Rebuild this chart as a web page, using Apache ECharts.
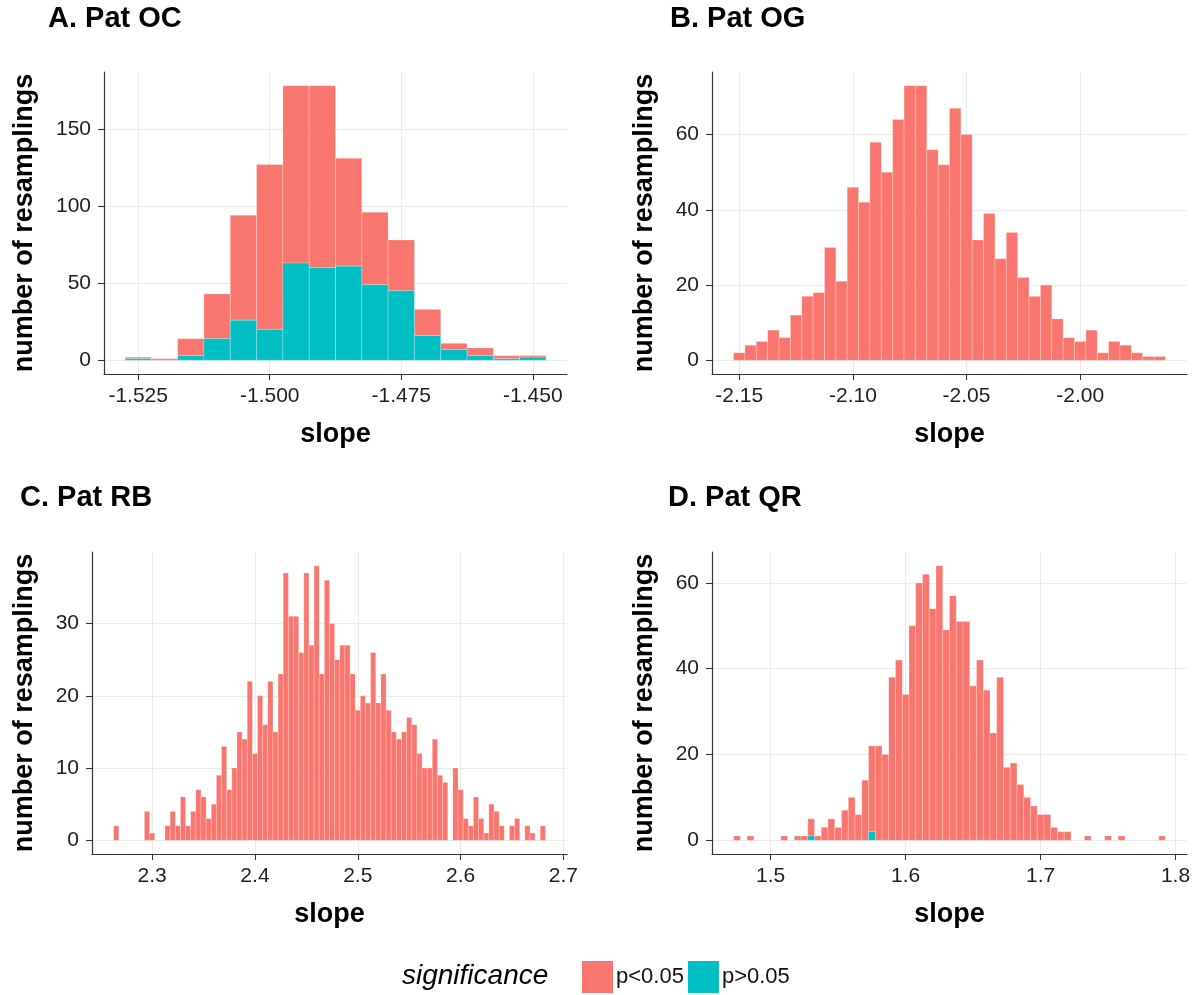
<!DOCTYPE html>
<html>
<head>
<meta charset="utf-8">
<script src="https://cdn.jsdelivr.net/npm/echarts@6/dist/echarts.min.js"></script>
<style>
  html, body { margin: 0; padding: 0; background: #ffffff; }
  #chart { width: 1199px; height: 995px; }
</style>
</head>
<body>
<div id="chart"></div>
<script>
// Histogram bin width shared by all four resampling distributions
const binWidth = 0.005;

// A. Pat OC — bin centres and counts split by significance
const ocSlope = [-1.525, -1.520, -1.515, -1.510, -1.505, -1.500, -1.495, -1.490,
                 -1.485, -1.480, -1.475, -1.470, -1.465, -1.460, -1.455, -1.450];
const ocSig    = [1, 1, 11, 29, 68, 107, 115, 118, 70, 47, 33, 17, 4, 5, 2, 1];
const ocNonSig = [1, 0, 3, 14, 26, 20, 63, 60, 61, 49, 45, 16, 7, 3, 1, 2];
const ocXTicks = [-1.525, -1.500, -1.475, -1.450];
const ocXLabels = ['-1.525', '-1.500', '-1.475', '-1.450'];
const ocYTicks = [0, 50, 100, 150];

// B. Pat OG
const ogSlope = [-2.150, -2.145, -2.140, -2.135, -2.130, -2.125, -2.120, -2.115, -2.110, -2.105,
                 -2.100, -2.095, -2.090, -2.085, -2.080, -2.075, -2.070, -2.065, -2.060, -2.055,
                 -2.050, -2.045, -2.040, -2.035, -2.030, -2.025, -2.020, -2.015, -2.010, -2.005,
                 -2.000, -1.995, -1.990, -1.985, -1.980, -1.975, -1.970, -1.965];
const ogSig = [2, 4, 5, 8, 6, 12, 17, 18, 30, 21,
               46, 42, 58, 50, 64, 73, 73, 56, 52, 67,
               60, 32, 39, 27, 34, 22, 17, 20, 11, 6,
               5, 8, 2, 5, 4, 2, 1, 1];
const ogXTicks = [-2.15, -2.10, -2.05, -2.00];
const ogXLabels = ['-2.15', '-2.10', '-2.05', '-2.00'];
const ogYTicks = [0, 20, 40, 60];

// C. Pat RB
const rbSlope = [2.265, 2.270, 2.275, 2.280, 2.285, 2.290, 2.295, 2.300, 2.305, 2.310,
                 2.315, 2.320, 2.325, 2.330, 2.335, 2.340, 2.345, 2.350, 2.355, 2.360,
                 2.365, 2.370, 2.375, 2.380, 2.385, 2.390, 2.395, 2.400, 2.405, 2.410,
                 2.415, 2.420, 2.425, 2.430, 2.435, 2.440, 2.445, 2.450, 2.455, 2.460,
                 2.465, 2.470, 2.475, 2.480, 2.485, 2.490, 2.495, 2.500, 2.505, 2.510,
                 2.515, 2.520, 2.525, 2.530, 2.535, 2.540, 2.545, 2.550, 2.555, 2.560,
                 2.565, 2.570, 2.575, 2.580, 2.585, 2.590, 2.595, 2.600, 2.605, 2.610,
                 2.615, 2.620, 2.625, 2.630, 2.635, 2.640, 2.645, 2.650, 2.655, 2.660,
                 2.665, 2.670, 2.675, 2.680];
const rbSig = [2, 0, 0, 0, 0, 0, 4, 1, 0, 0,
               2, 4, 2, 6, 2, 4, 7, 6, 3, 5,
               9, 13, 7, 10, 15, 14, 22, 12, 20, 16,
               22, 15, 23, 37, 31, 31, 26, 37, 27, 38,
               23, 36, 30, 25, 27, 27, 23, 18, 20, 19,
               26, 19, 23, 18, 15, 14, 15, 17, 16, 12,
               10, 10, 14, 9, 8, 0, 10, 7, 3, 2,
               6, 3, 1, 5, 4, 2, 0, 2, 3, 0,
               2, 1, 0, 2];
const rbXTicks = [2.3, 2.4, 2.5, 2.6, 2.7];
const rbXLabels = ['2.3', '2.4', '2.5', '2.6', '2.7'];
const rbYTicks = [0, 10, 20, 30];

// D. Pat QR
const qrSlope = [1.475, 1.480, 1.485, 1.490, 1.495, 1.500, 1.505, 1.510, 1.515, 1.520,
                 1.525, 1.530, 1.535, 1.540, 1.545, 1.550, 1.555, 1.560, 1.565, 1.570,
                 1.575, 1.580, 1.585, 1.590, 1.595, 1.600, 1.605, 1.610, 1.615, 1.620,
                 1.625, 1.630, 1.635, 1.640, 1.645, 1.650, 1.655, 1.660, 1.665, 1.670,
                 1.675, 1.680, 1.685, 1.690, 1.695, 1.700, 1.705, 1.710, 1.715, 1.720,
                 1.725, 1.730, 1.735, 1.740, 1.745, 1.750, 1.755, 1.760, 1.765, 1.770,
                 1.775, 1.780, 1.785, 1.790];
const qrSig = [1, 0, 1, 0, 0, 0, 0, 1, 0, 1,
               1, 4, 1, 3, 5, 3, 7, 10, 6, 14,
               20, 22, 20, 38, 42, 34, 50, 60, 62, 54,
               64, 49, 57, 51, 51, 36, 42, 35, 25, 38,
               17, 18, 13, 10, 8, 6, 6, 3, 2, 2,
               0, 0, 1, 0, 0, 1, 0, 1, 0, 0,
               0, 0, 0, 1];
const qrNonSig = [0, 0, 0, 0, 0, 0, 0, 0, 0, 0,
                  0, 1, 0, 0, 0, 0, 0, 0, 0, 0,
                  2, 0, 0, 0, 0, 0, 0, 0, 0, 0,
                  0, 0, 0, 0, 0, 0, 0, 0, 0, 0,
                  0, 0, 0, 0, 0, 0, 0, 0, 0, 0,
                  0, 0, 0, 0, 0, 0, 0, 0, 0, 0,
                  0, 0, 0, 0];
const qrXTicks = [1.5, 1.6, 1.7, 1.8];
const qrXLabels = ['1.5', '1.6', '1.7', '1.8'];
const qrYTicks = [0, 20, 40, 60];

const panelTitles = ['A. Pat OC', 'B. Pat OG', 'C. Pat RB', 'D. Pat QR'];
const sigNames = ['p<0.05', 'p>0.05'];
const sigColors = ['#F8766D', '#00BFC4'];

const FONT = '"Liberation Sans", Arial, Helvetica, sans-serif';

// Each panel: bins, the stacked counts (non-significant at the bottom), ticks
const panels = [
  { slope: ocSlope, sig: ocSig, nonSig: ocNonSig, xTicks: ocXTicks, xLabels: ocXLabels, yTicks: ocYTicks,
    grid: { left: 104, top: 72, width: 463, height: 302 }, yNameGap: 66 },
  { slope: ogSlope, sig: ogSig, nonSig: null, xTicks: ogXTicks, xLabels: ogXLabels, yTicks: ogYTicks,
    grid: { left: 712, top: 72, width: 475, height: 302 }, yNameGap: 54 },
  { slope: rbSlope, sig: rbSig, nonSig: null, xTicks: rbXTicks, xLabels: rbXLabels, yTicks: rbYTicks,
    grid: { left: 92, top: 552, width: 475, height: 302 }, yNameGap: 54 },
  { slope: qrSlope, sig: qrSig, nonSig: qrNonSig, xTicks: qrXTicks, xLabels: qrXLabels, yTicks: qrYTicks,
    grid: { left: 712, top: 552, width: 475, height: 302 }, yNameGap: 54 }
];

const grids = [], xAxes = [], yAxes = [], series = [];

function histSeries(name, color, idx, data) {
  return {
    type: 'custom',
    name: name,
    xAxisIndex: idx,
    yAxisIndex: idx,
    itemStyle: { color: color },
    encode: { x: 0, y: [1, 2] },
    data: data,
    renderItem: function (params, api) {
      const c = api.value(0), lo = api.value(1), hi = api.value(2);
      const p0 = api.coord([c - binWidth / 2, lo]);
      const p1 = api.coord([c + binWidth / 2, hi]);
      return {
        type: 'rect',
        shape: { x: p0[0], y: p1[1], width: p1[0] - p0[0], height: p0[1] - p1[1] },
        style: { fill: color, stroke: 'rgba(255,255,255,0.4)', lineWidth: 0.6 }
      };
    }
  };
}

panels.forEach(function (p, i) {
  const nonSig = p.nonSig || p.sig.map(function () { return 0; });
  const totals = p.sig.map(function (v, k) { return v + nonSig[k]; });
  const yMaxData = Math.max.apply(null, totals);
  const xLo = p.slope[0] - binWidth / 2;
  const xHi = p.slope[p.slope.length - 1] + binWidth / 2;
  const xPad = (xHi - xLo) * 0.05;

  grids.push(Object.assign({ containLabel: false }, p.grid));

  const labelFor = function (v) {
    const k = p.xTicks.findIndex(function (t) { return Math.abs(t - v) < 1e-9; });
    return k >= 0 ? p.xLabels[k] : '';
  };

  xAxes.push({
    type: 'value', gridIndex: i,
    min: xLo - xPad, max: xHi + xPad,
    name: 'slope', nameLocation: 'middle', nameGap: 47,
    nameTextStyle: { fontFamily: FONT, fontWeight: 'bold', fontSize: 27, color: '#000' },
    axisLine: { onZero: false, lineStyle: { color: '#333333', width: 1.2 } },
    axisTick: { show: true, length: 6, lineStyle: { color: '#333333', width: 1.1 }, customValues: p.xTicks },
    axisLabel: { customValues: p.xTicks, formatter: labelFor, margin: 12,
                 fontFamily: FONT, fontSize: 21, color: '#1e1e1e' },
    splitLine: { show: true, lineStyle: { color: '#ebebeb', width: 1 } }
  });

  yAxes.push({
    type: 'value', gridIndex: i,
    min: -0.05 * yMaxData, max: 1.05 * yMaxData,
    name: 'number of resamplings', nameLocation: 'middle', nameGap: p.yNameGap,
    nameTextStyle: { fontFamily: FONT, fontWeight: 'bold', fontSize: 27, color: '#000' },
    axisLine: { show: true, onZero: false, lineStyle: { color: '#333333', width: 1.2 } },
    axisTick: { show: true, length: 6, lineStyle: { color: '#333333', width: 1.1 }, customValues: p.yTicks },
    axisLabel: { customValues: p.yTicks, margin: 13,
                 fontFamily: FONT, fontSize: 21, color: '#1e1e1e' },
    splitLine: { show: true, lineStyle: { color: '#ebebeb', width: 1 } }
  });

  // significant counts are stacked on top of the non-significant ones
  const sigData = [], nonData = [];
  p.slope.forEach(function (x, k) {
    if (nonSig[k] > 0) nonData.push([x, 0, nonSig[k]]);
    if (p.sig[k] > 0) sigData.push([x, nonSig[k], nonSig[k] + p.sig[k]]);
  });
  series.push(histSeries(sigNames[0], sigColors[0], i, sigData));
  series.push(histSeries(sigNames[1], sigColors[1], i, nonData));
});

const titlePos = [[48, 19], [670, 19], [20, 498], [668, 498]];
const graphics = panelTitles.map(function (t, i) {
  return {
    type: 'text', x: titlePos[i][0], y: titlePos[i][1],
    style: { text: t, fontFamily: FONT, fontWeight: 'bold', fontSize: 29, fill: '#000',
             align: 'left', verticalAlign: 'middle' }
  };
});
graphics.push({
  type: 'text', x: 402, y: 976,
  style: { text: 'significance', fontFamily: FONT, fontStyle: 'italic', fontSize: 28, fill: '#000',
           align: 'left', verticalAlign: 'middle' }
});

const chart = echarts.init(document.getElementById('chart'), null, { renderer: 'canvas' });
chart.setOption({
  animation: false,
  backgroundColor: '#ffffff',
  grid: grids,
  xAxis: xAxes,
  yAxis: yAxes,
  series: series,
  graphic: graphics,
  legend: {
    data: sigNames,
    left: 577, top: 956,
    icon: 'rect', itemWidth: 31, itemHeight: 32, itemGap: 4,
    selectedMode: false,
    textStyle: { fontFamily: FONT, fontSize: 22, color: '#111', padding: [0, 0, 0, -2] }
  }
});
</script>
</body>
</html>
